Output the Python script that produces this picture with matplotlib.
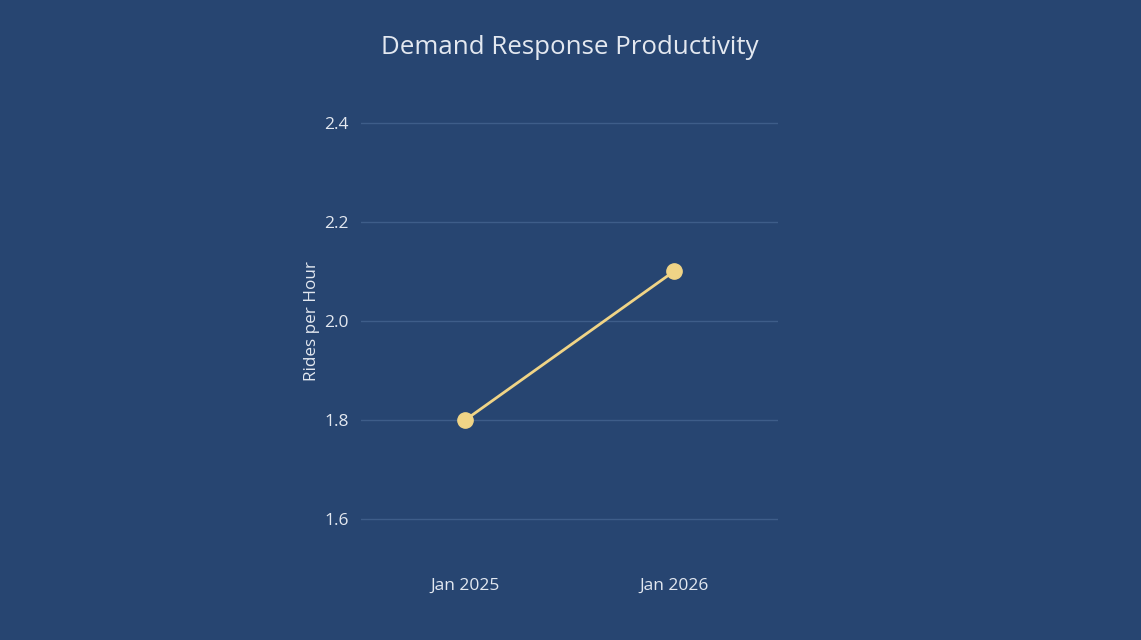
import matplotlib
matplotlib.use("Agg")
import matplotlib.pyplot as plt

# donnees
categories = ["Jan 2025", "Jan 2026"]
rides_per_hour = [1.8, 2.1]
y_ticks = [1.6, 1.8, 2.0, 2.2, 2.4]

bg = "#274571"
txt = "#e3e8f0"
grid_col = "#3e5d89"
line_col = "#f0d486"

plt.rcParams["font.family"] = ["Open Sans", "DejaVu Sans"]

fig = plt.figure(figsize=(11.41, 6.4), dpi=100, facecolor=bg)
# axes un peu plus haut que les grilles pour ne pas couper la ligne 1.6
pad_y = 0.02
ax = fig.add_axes([361/1141, (121 - 9.9)/640, 417/1141, (396 + 19.8)/640])
ax.set_facecolor(bg)

x = list(range(len(categories)))
ax.plot(x, rides_per_hour, "-o", color=line_col, lw=2, ms=11, clip_on=False, zorder=3)

ax.set_xlim(-0.5, len(categories) - 0.5)
ax.set_ylim(y_ticks[0] - pad_y, y_ticks[-1] + pad_y)
ax.set_xticks(x)
ax.set_xticklabels(categories)
ax.set_yticks(y_ticks)
ax.set_yticklabels(["{:.1f}".format(v) for v in y_ticks])

ax.grid(axis="y", color=grid_col, lw=1)
ax.set_axisbelow(True)
for s in ax.spines.values():
    s.set_visible(False)
ax.tick_params(length=0, colors=txt, labelsize=12.5)
ax.tick_params(axis="x", pad=35)
ax.tick_params(axis="y", pad=9)

ax.set_ylabel("Rides per Hour", color=txt, fontsize=12.3, labelpad=3)
fig.text(570/1141, 1 - 48/640, "Demand Response Productivity", color=txt,
         fontsize=18.6, ha="center", va="center")

fig.savefig("out.png", dpi=100, facecolor=bg)
